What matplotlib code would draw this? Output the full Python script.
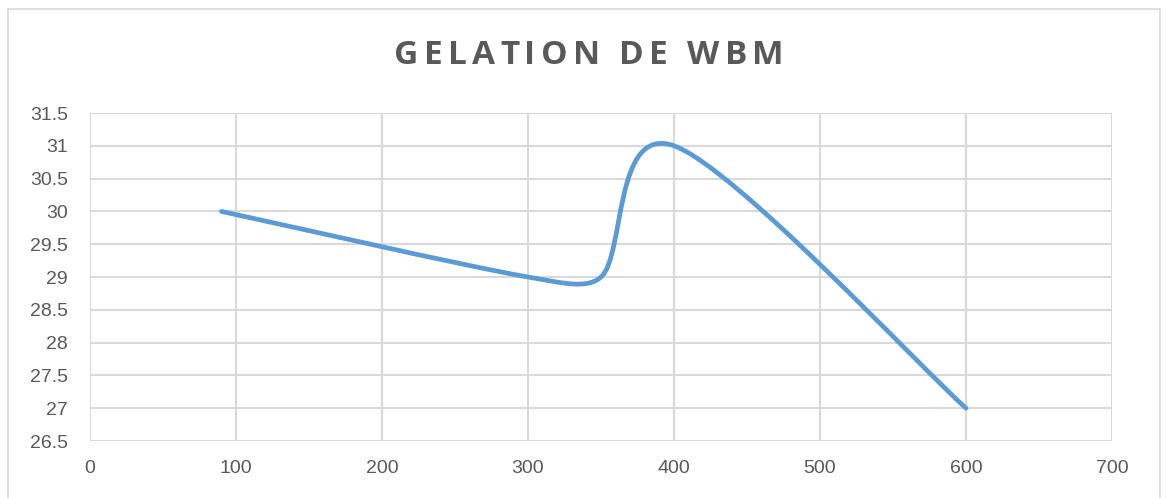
import numpy as np
import matplotlib
matplotlib.use("Agg")
import matplotlib.pyplot as plt
from matplotlib.path import Path
from matplotlib.patches import PathPatch, Rectangle

# Gelation readings
x_vals = [90, 300, 350, 400, 600]
y_vals = [30, 29, 29, 31, 27]

title = "GELATION DE WBM"
x_ticks = [0, 100, 200, 300, 400, 500, 600, 700]
y_ticks = [26.5, 27, 27.5, 28, 28.5, 29, 29.5, 30, 30.5, 31, 31.5]

TEXT = "#595959"
GRID = "#D9D9D9"
LINE = "#5B9BD5"


def smooth_path(ax, xs, ys):
    """Spreadsheet-style smoothed line: cubic Bezier segments whose control
    points are worked out in screen space, then mapped back to data."""
    pts = np.column_stack([xs, ys]).astype(float)
    scr = ax.transData.transform(pts)
    inv = ax.transData.inverted()
    n = len(scr)
    verts = [pts[0]]
    codes = [Path.MOVETO]
    for i in range(n - 1):
        p0 = scr[i - 1] if i > 0 else scr[i]
        p1, p2 = scr[i], scr[i + 1]
        p3 = scr[i + 2] if i + 2 < n else scr[i + 1]
        d02 = np.hypot(*(p2 - p0))
        d12 = np.hypot(*(p2 - p1))
        d13 = np.hypot(*(p3 - p1))
        big0 = d02 / 6 >= d12 / 2
        big1 = d13 / 6 >= d12 / 2
        if not big0 and not big1:
            b1 = p1 + (p2 - p0) / 6
            b2 = p2 - (p3 - p1) / 6
        elif big0 and big1:
            b1 = p1 + (p2 - p0) * d12 / d02 / 2
            b2 = p2 - (p3 - p1) * d12 / d13 / 2
        elif big0:
            b1 = p1 + (p2 - p0) * d12 / d02 / 2
            b2 = p2 - (p3 - p1) * d12 / d02 / 2
        else:
            b1 = p1 + (p2 - p0) * d12 / d13 / 2
            b2 = p2 - (p3 - p1) * d12 / d13 / 2
        verts += list(inv.transform(np.array([b1, b2]))) + [pts[i + 1]]
        codes += [Path.CURVE4] * 3
    return Path(verts, codes)


fig = plt.figure(figsize=(11.66, 4.98), dpi=100)
fig.patches.append(Rectangle((8 / 1166, -0.1), 1152 / 1166, 1.1 - 9 / 498,
                             transform=fig.transFigure, fill=False,
                             edgecolor=GRID, linewidth=1.2))

ax = fig.add_axes([90 / 1166, 57 / 498, 1022 / 1166, 328 / 498])
ax.set_xlim(0, 700)
ax.set_ylim(26.5, 31.5)
ax.add_patch(PathPatch(smooth_path(ax, x_vals, y_vals), facecolor="none",
                       edgecolor=LINE, linewidth=3.4, capstyle="round",
                       joinstyle="round", zorder=3))

ax.set_xticks(x_ticks)
ax.set_yticks(y_ticks)
ax.set_xticklabels([str(v) for v in x_ticks])
ax.set_yticklabels([f"{v:g}" for v in y_ticks])
ax.grid(True, color=GRID, linewidth=1.5)
ax.set_axisbelow(True)
for s in ax.spines.values():
    s.set_visible(False)
ax.tick_params(length=0, labelsize=14, labelcolor=TEXT)
ax.tick_params(axis="y", pad=16)
ax.tick_params(axis="x", pad=14)
for lab in ax.get_xticklabels() + ax.get_yticklabels():
    lab.set_family("Liberation Sans")

# title with extra letter spacing, laid out one character at a time
renderer = fig.canvas.get_renderer()
tracking = 5.2
chars = []
for ch in title:
    t = fig.text(0, 0.889, ch, ha="left", va="center", fontsize=24,
                 fontweight="bold", color=TEXT, family="Open Sans")
    w = t.get_window_extent(renderer).width if ch != " " else 9.0
    chars.append((t, w))
total = sum(w for _, w in chars) + tracking * (len(chars) - 1)
x = 589 - total / 2
for t, w in chars:
    t.set_x(x / 1166)
    x += w + tracking

fig.savefig("out.png", dpi=100)
